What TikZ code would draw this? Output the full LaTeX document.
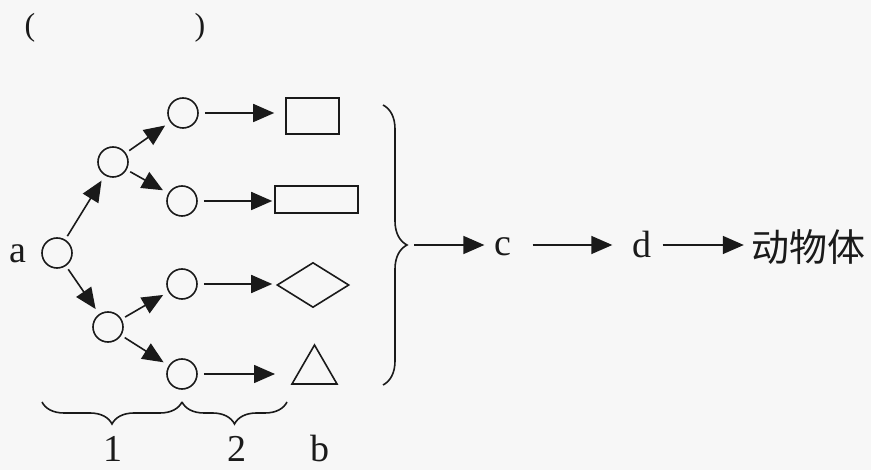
\documentclass[tikz,border=0pt]{standalone}
\usepackage{fontspec}
\setmainfont{Liberation Serif}
\newfontfamily\cjk{Noto Sans CJK SC}
\usetikzlibrary{arrows.meta,shapes.geometric,decorations.pathreplacing}
\definecolor{bg}{HTML}{F7F7F7}
\definecolor{ink}{HTML}{1A1A1A}
\begin{document}
\begin{tikzpicture}[x=1pt,y=-1pt,
  circ/.style={circle,draw=ink,line width=1.6pt,minimum size=30pt,inner sep=0pt},
  arr/.style={draw=ink,line width=1.6pt,-{Triangle[length=21pt,width=18pt]},shorten <=4pt,shorten >=6pt},
  lbl/.style={text=ink,font=\fontsize{38}{40}\selectfont,inner sep=0pt},
  shp/.style={draw=ink,line width=1.6pt,inner sep=0pt},
  brc/.style={draw=ink,line width=1.6pt,decorate,decoration={brace,amplitude=22pt}}]
\fill[bg] (0,0) rectangle (871,470);
\useasboundingbox (0,0) rectangle (871,470);
% parentheses
\node[lbl,font=\fontsize{32}{34}\selectfont] (lp) at (30,28) {(};
\node[lbl,font=\fontsize{32}{34}\selectfont] (rp) at (200,28) {)};
% tree
\node[circ] (a0) at (57,253) {};
\node[lbl,anchor=base] (la) at (18,263) {a};
\node[circ] (u1) at (113,162) {};
\node[circ] (l1) at (108,327) {};
\node[circ] (r1) at (183,113) {};
\node[circ] (r2) at (182,201) {};
\node[circ] (r3) at (182,284) {};
\node[circ] (r4) at (182,374) {};
\draw[arr] (a0) -- (u1);
\draw[arr] (a0) -- (l1);
\draw[arr] (u1) -- (r1);
\draw[arr] (u1) -- (r2);
\draw[arr] (l1) -- (r3);
\draw[arr] (l1) -- (r4);
% shapes
\node[shp,rectangle,minimum width=53pt,minimum height=36pt] (s1) at (312.5,116) {};
\node[shp,rectangle,minimum width=83pt,minimum height=27pt] (s2) at (316.5,199.5) {};
\node[shp,diamond,minimum width=72pt,minimum height=45pt] (s3) at (313,285) {};
\node[shp,regular polygon,regular polygon sides=3,minimum size=52pt] (s4) at (314.5,371) {};
\coordinate (t4) at (275,374);
\draw[arr,shorten <=6pt,shorten >=11pt] (r1) -- (r1 -| s1.west);
\draw[arr,shorten <=6pt,shorten >=2pt] (r2) -- (r2 -| s2.west);
\draw[arr,shorten <=6pt,shorten >=4pt] (r3) -- (r3 -| s3.west);
\draw[arr,shorten <=6pt,shorten >=0pt] (r4) -- (t4);
% big brace
\coordinate (bt0) at (383,105);
\coordinate (bt1) at (383,385);
\draw[brc,decoration={brace,amplitude=24pt}] (bt0) -- (bt1);
\coordinate (bt) at (410,245);
\node[lbl,anchor=base] (c) at (503,256) {c};
\node[lbl,anchor=base] (d) at (642,258) {d};
\node[lbl,font=\cjk\fontsize{38}{40}\selectfont] (w) at (808,247) {动物体};
\draw[arr,shorten <=4pt,shorten >=10pt] (bt) -- (bt -| c.west);
\draw[arr,shorten <=21pt,shorten >=20pt] (c.east |- bt) -- (d.west |- bt);
\draw[arr,shorten <=11pt,shorten >=7pt] (d.east |- bt) -- (w.west |- bt);
% bottom braces
\coordinate (b0) at (42,402);
\coordinate (b1) at (182,402);
\coordinate (b2) at (287,402);
\draw[brc] (b1) -- (b0);
\draw[brc] (b2) -- (b1);
\node[lbl,anchor=base] (n1) at (113,461) {1};
\node[lbl,anchor=base] (n2) at (237,461) {2};
\node[lbl,anchor=base] (nb) at (320,461) {b};
\end{tikzpicture}
\end{document}
